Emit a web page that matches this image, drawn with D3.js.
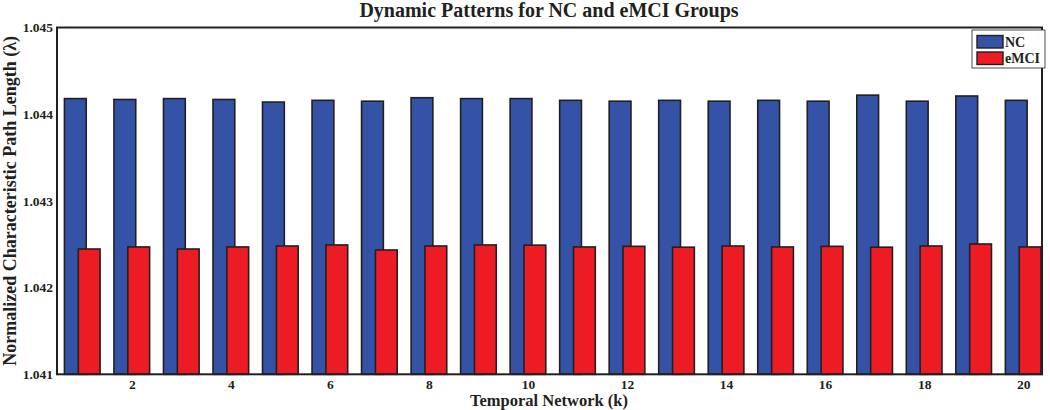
<!DOCTYPE html>
<html>
<head>
<meta charset="utf-8">
<script src="https://cdn.jsdelivr.net/npm/d3@7"></script>
<style>
  html, body { margin: 0; padding: 0; background: #fff; }
  svg { display: block; }
  text { font-family: "Liberation Serif", "Times New Roman", serif; font-weight: bold; fill: #231f20; }
</style>
</head>
<body>
<svg id="chart" width="1050" height="410"></svg>
<script>
const categories = d3.range(1, 21);
const ncValues = [1.04418, 1.04417, 1.04418, 1.04417, 1.04414, 1.04416, 1.04415, 1.04419, 1.04418, 1.04418,
                  1.04416, 1.04415, 1.04416, 1.04415, 1.04416, 1.04415, 1.04422, 1.04415, 1.04421, 1.04416];
const emciValues = [1.042445, 1.042469, 1.042445, 1.042469, 1.042480, 1.042492, 1.042434, 1.042480, 1.042492, 1.042490,
                    1.042469, 1.042476, 1.042466, 1.042480, 1.042469, 1.042476, 1.042466, 1.042480, 1.042503, 1.042469];
const yTicks = [1.041, 1.042, 1.043, 1.044, 1.045];
const xTicks = [2, 4, 6, 8, 10, 12, 14, 16, 18, 20];
const seriesNames = ["NC", "eMCI"];
const seriesColors = ["#3453a6", "#ed1c24"];

(function () {
const svg = d3.select("#chart");
const mLeft = 57, mRight = 1042, mTop = 27.5, mBottom = 374.3;

const x = d3.scaleLinear().domain([0.49, 20.38]).range([mLeft, mRight]);
const y = d3.scaleLinear().domain([1.041, 1.045]).range([mBottom, mTop]);

const barW = 0.44, offset = 0.14;
const series = [ncValues, emciValues];

series.forEach((vals, si) => {
  const off = si === 0 ? -offset : offset;
  svg.append("g").selectAll("rect").data(categories).enter().append("rect")
    .attr("x", d => x(d + off - barW / 2))
    .attr("width", d => x(d + off + barW / 2) - x(d + off - barW / 2))
    .attr("y", (d, i) => y(vals[i]))
    .attr("height", (d, i) => y(1.041) - y(vals[i]))
    .attr("fill", seriesColors[si])
    .attr("stroke", "#231f20")
    .attr("stroke-width", 1.6);
});

// frame
svg.append("rect")
  .attr("x", mLeft).attr("y", mTop)
  .attr("width", mRight - mLeft).attr("height", mBottom - mTop)
  .attr("fill", "none").attr("stroke", "#231f20").attr("stroke-width", 2);

// y axis labels
const yAxis = d3.axisLeft(y).tickValues(yTicks).tickFormat(d3.format(".3f")).tickSize(0).tickPadding(4);
const gy = svg.append("g").attr("transform", `translate(${mLeft},0)`).call(yAxis);
gy.select(".domain").remove();
gy.selectAll("text").style("font-size", "13.5px").style("font-family", "Liberation Serif, serif").style("font-weight", "bold").attr("fill", "#231f20");

// x axis labels
const xAxis = d3.axisBottom(x).tickValues(xTicks).tickFormat(d3.format("d")).tickSize(0).tickPadding(5);
const gx = svg.append("g").attr("transform", `translate(0,${mBottom})`).call(xAxis);
gx.select(".domain").remove();
gx.selectAll("text").style("font-size", "13.5px").style("font-family", "Liberation Serif, serif").style("font-weight", "bold").attr("fill", "#231f20");

// title
svg.append("text").attr("x", 549).attr("y", 17).attr("text-anchor", "middle")
  .style("font-size", "20px").text("Dynamic Patterns for NC and eMCI Groups");

// x label
svg.append("text").attr("x", 549).attr("y", 406).attr("text-anchor", "middle")
  .style("font-size", "16.5px").text("Temporal Network (k)");

// y label
svg.append("text").attr("transform", `translate(15.5,${(mTop + mBottom) / 2}) rotate(-90)`)
  .attr("text-anchor", "middle").style("font-size", "18px")
  .text("Normalized Characteristic Path Length (λ)");

// legend
const lg = svg.append("g");
lg.append("rect").attr("x", 972).attr("y", 30).attr("width", 73).attr("height", 38)
  .attr("fill", "#fff").attr("stroke", "#231f20").attr("stroke-width", 0.8);
seriesNames.forEach((name, i) => {
  lg.append("rect").attr("x", 977).attr("y", 35.5 + i * 16.5).attr("width", 26).attr("height", 12.5)
    .attr("fill", seriesColors[i]).attr("stroke", "#231f20").attr("stroke-width", 1.4);
  lg.append("text").attr("x", 1005).attr("y", 46.5 + i * 16.5)
    .style("font-size", "14px").text(name);
});
})();
</script>
</body>
</html>
